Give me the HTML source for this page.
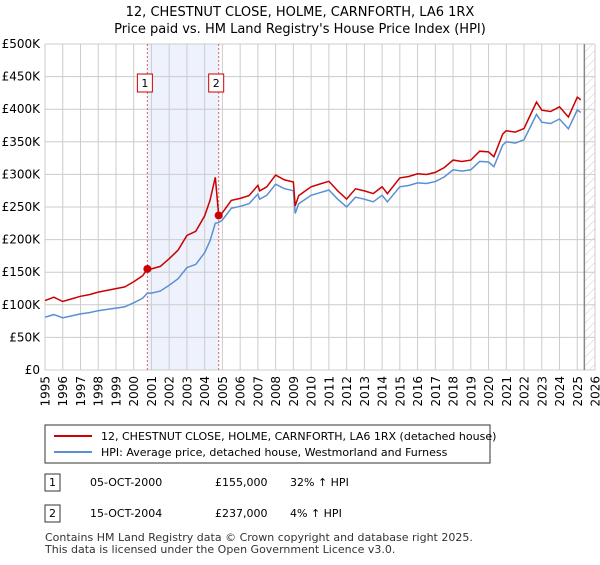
<!DOCTYPE html>
<html><head><meta charset="utf-8"><style>
body{margin:0;background:#fff;font-family:"Liberation Sans","DejaVu Sans",sans-serif;}
svg text{font-family:"DejaVu Sans","Liberation Sans",sans-serif;}
</style></head><body>
<svg id="c" width="600" height="560" viewBox="0 0 600 560" xmlns="http://www.w3.org/2000/svg">
<defs><pattern id="hatch" width="6" height="6" patternUnits="userSpaceOnUse" patternTransform="rotate(45)"><line x1="0" y1="0" x2="0" y2="6" stroke="#ccc" stroke-width="1"/></pattern></defs>
<text x="300" y="16" text-anchor="middle" font-size="13">12, CHESTNUT CLOSE, HOLME, CARNFORTH, LA6 1RX</text>
<text x="300" y="33" text-anchor="middle" font-size="13">Price paid vs. HM Land Registry's House Price Index (HPI)</text>
<g id="plot"></g>
<g>
<rect x="45" y="425" width="445" height="38" fill="#fff" stroke="#333"/>
<line x1="54" y1="436" x2="92" y2="436" stroke="#cc0000" stroke-width="2"/>
<text x="101" y="440" font-size="11">12, CHESTNUT CLOSE, HOLME, CARNFORTH, LA6 1RX (detached house)</text>
<line x1="54" y1="452" x2="92" y2="452" stroke="#5b8fd4" stroke-width="2"/>
<text x="101" y="456" font-size="11">HPI: Average price, detached house, Westmorland and Furness</text>
</g>
<g font-size="11">
<rect x="45" y="474" width="15" height="17" fill="#fff" stroke="#333"/><text x="52.5" y="486" text-anchor="middle">1</text>
<text x="90" y="486">05-OCT-2000</text><text x="215" y="486">£155,000</text><text x="290" y="486">32% ↑ HPI</text>
<rect x="45" y="505" width="15" height="17" fill="#fff" stroke="#333"/><text x="52.5" y="517" text-anchor="middle">2</text>
<text x="90" y="517">15-OCT-2004</text><text x="215" y="517">£237,000</text><text x="290" y="517">4% ↑ HPI</text>
</g>
<text x="45" y="541" font-size="11" fill="#333">Contains HM Land Registry data © Crown copyright and database right 2025.</text>
<text x="45" y="553" font-size="11" fill="#333">This data is licensed under the Open Government Licence v3.0.</text>
</svg>
<script>
const hpiYears=[1995,1995.5,1996,1996.5,1997,1997.5,1998,1998.5,1999,1999.5,2000,2000.5,2000.77,2001,2001.5,2002,2002.5,2003,2003.5,2004,2004.3,2004.6,2004.79,2005,2005.5,2006,2006.5,2007,2007.1,2007.5,2008,2008.5,2009,2009.1,2009.3,2010,2010.5,2011,2011.5,2012,2012.5,2013,2013.5,2014,2014.3,2015,2015.5,2016,2016.5,2017,2017.5,2018,2018.5,2019,2019.5,2020,2020.3,2020.8,2021,2021.5,2022,2022.3,2022.7,2023,2023.5,2024,2024.5,2025,2025.2];
const hpiValues=[81,85,80,83,86,88,91,93,95,97,103,110,118,118,121,130,140,157,162,180,198,225,226,230,248,251,255,270,262,268,285,278,275,240,255,268,272,276,262,250,265,262,258,268,258,281,283,287,286,289,296,307,305,307,320,319,312,345,350,348,353,370,392,380,378,385,370,399,395];
const saleYears=[2000.77,2004.79];
const salePrices=[155,237];
const yTicks=[0,50,100,150,200,250,300,350,400,450,500];
const yTickLabels=["£0","£50K","£100K","£150K","£200K","£250K","£300K","£350K","£400K","£450K","£500K"];
const xTicks=[1995,1996,1997,1998,1999,2000,2001,2002,2003,2004,2005,2006,2007,2008,2009,2010,2011,2012,2013,2014,2015,2016,2017,2018,2019,2020,2021,2022,2023,2024,2025,2026];

const X0=45,X1=595,Y0=370,Y1=44;
const xs=y=>X0+(y-1995)/(2026-1995)*(X1-X0);
const ys=v=>Y0-v/500*(Y0-Y1);
const NS="http://www.w3.org/2000/svg";
const g=document.getElementById('plot');
function mk(t,a){const e=document.createElementNS(NS,t);for(const k in a)e.setAttribute(k,a[k]);g.appendChild(e);return e;}
function interp(x){for(let i=1;i<hpiYears.length;i++){if(x<=hpiYears[i]){const t=(x-hpiYears[i-1])/(hpiYears[i]-hpiYears[i-1]);return hpiValues[i-1]+t*(hpiValues[i]-hpiValues[i-1]);}}return hpiValues[hpiValues.length-1];}

let e=mk('rect',{x:xs(saleYears[0]),y:Y1,width:xs(saleYears[1])-xs(saleYears[0]),height:Y0-Y1,fill:'#eef2fc'});


e=mk('rect',{x:xs(2025.4),y:Y1,width:X1-xs(2025.4),height:Y0-Y1,fill:'url(#hatch)'});


xTicks.forEach(t=>{
 e=mk('line',{x1:xs(t),x2:xs(t),y1:Y1,y2:Y0,stroke:'#ccc'});
 
 
 const tx=xs(t)+4.5, ty=376;
 e=mk('text',{x:tx,y:ty,'text-anchor':'end','font-size':12,transform:'rotate(-90 '+tx+' '+ty+')'});
 e.textContent=t;
 
 
});
yTicks.forEach((t,i)=>{
 e=mk('line',{x1:X0,x2:X1,y1:ys(t),y2:ys(t),stroke:'#ccc'});
 
 
 e=mk('text',{x:40,y:ys(t)+4,'text-anchor':'end','font-size':12});
 e.textContent=yTickLabels[i];
 
 
});
e=mk('line',{x1:xs(2025.4),x2:xs(2025.4),y1:Y1,y2:Y0,stroke:'#888','stroke-width':1.5});


saleYears.forEach((s,i)=>{
 e=mk('line',{x1:xs(s),x2:xs(s),y1:Y1,y2:Y0,stroke:'#e06060','stroke-dasharray':'2,2'});
 
 
 e=mk('rect',{x:xs(s)-10,y:74,width:15,height:18,fill:'#fff',stroke:'#cc0000'});
 
 
 e=mk('text',{x:xs(s)-2.5,y:87,'text-anchor':'middle','font-size':11});
 e.textContent=String(i+1);
 
 
});
const hpiPts=hpiYears.map((y,i)=>xs(y).toFixed(1)+','+ys(hpiValues[i]).toFixed(1)).join(' ');
e=mk('polyline',{points:hpiPts,fill:'none',stroke:'#5b8fd4','stroke-width':1.5});


const r1=salePrices[0]/interp(saleYears[0]), r2=salePrices[1]/interp(saleYears[1]);
const redPts=[];
hpiYears.forEach((y,i)=>{const r=y<saleYears[1]?r1:r2;redPts.push(xs(y).toFixed(1)+','+ys(hpiValues[i]*r).toFixed(1));});
e=mk('polyline',{points:redPts.join(' '),fill:'none',stroke:'#cc0000','stroke-width':1.5});


saleYears.forEach((s,i)=>{
 e=mk('circle',{cx:xs(s),cy:ys(salePrices[i]),r:4,fill:'#cc0000'});
 
 
});
</script>
</body></html>
